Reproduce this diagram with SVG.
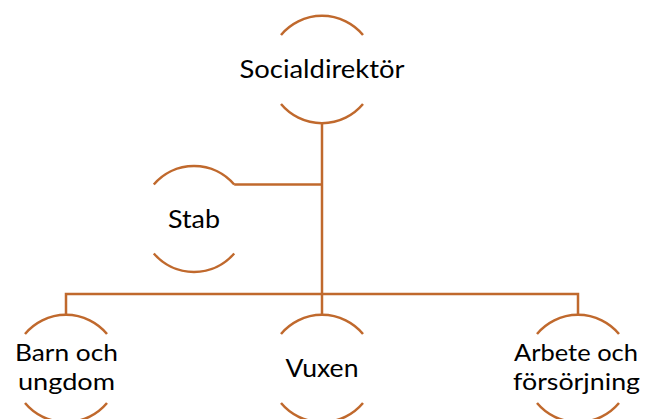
<svg xmlns="http://www.w3.org/2000/svg" width="646" height="419" viewBox="0 0 646 419">
<style>
.arc{fill:none;stroke:#C0692D;stroke-width:2.5}
.con{fill:none;stroke:#C0692D;stroke-width:2.5}
text{font-family:Lato,"Open Sans","Liberation Sans",sans-serif;font-size:25px;fill:#000;text-anchor:middle}
text.two{font-size:23.5px}
</style>
<rect width="646" height="419" fill="#fff"/>
<g id="connectors">
<path class="con" d="M322,123 V294"/>
<path class="con" d="M234.2,184.5 H322"/>
<path class="con" d="M66,315 V294 H578 V315"/>
<path class="con" d="M322,294 V315"/>
</g>
<g id="socialdirektor">
<path class="arc" d="M281,35 A53.5,53.5 0 0 1 363,35"/>
<path class="arc" d="M281,104 A53.5,53.5 0 0 0 363,104"/>
<text x="322" y="78" textLength="165" lengthAdjust="spacingAndGlyphs">Socialdirektör</text>
</g>
<g id="stab">
<path class="arc" d="M153.8,184.5 A53,53 0 0 1 234.2,184.5"/>
<path class="arc" d="M153.8,253.5 A53,53 0 0 0 234.2,253.5"/>
<text x="194" y="228" textLength="52" lengthAdjust="spacingAndGlyphs">Stab</text>
</g>
<g id="barn">
<path class="arc" d="M25,334 A53.5,53.5 0 0 1 107,334"/>
<path class="arc" d="M25,403 A53.5,53.5 0 0 0 107,403"/>
<text class="two" x="66.5" y="361" textLength="103" lengthAdjust="spacingAndGlyphs">Barn och</text>
<text class="two" x="66.5" y="390" textLength="97" lengthAdjust="spacingAndGlyphs">ungdom</text>
</g>
<g id="vuxen">
<path class="arc" d="M281,334 A53.5,53.5 0 0 1 363,334"/>
<path class="arc" d="M281,403 A53.5,53.5 0 0 0 363,403"/>
<text x="322" y="377" textLength="73" lengthAdjust="spacingAndGlyphs">Vuxen</text>
</g>
<g id="arbete">
<path class="arc" d="M537,334 A53.5,53.5 0 0 1 619,334"/>
<path class="arc" d="M537,403 A53.5,53.5 0 0 0 619,403"/>
<text class="two" x="576" y="361" textLength="124" lengthAdjust="spacingAndGlyphs">Arbete och</text>
<text class="two" x="576.5" y="389.5" textLength="127" lengthAdjust="spacingAndGlyphs">försörjning</text>
</g>
</svg>
